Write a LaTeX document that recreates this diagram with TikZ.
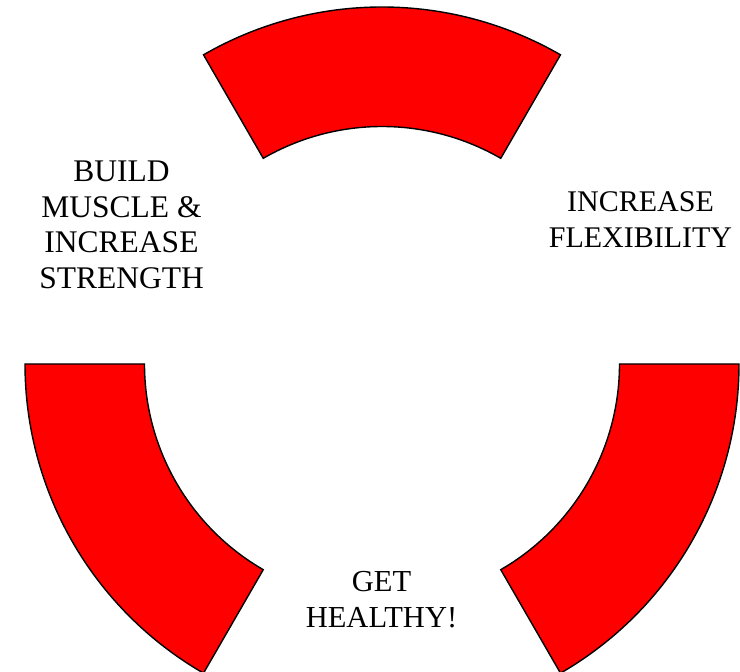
\documentclass[tikz,border=0pt]{standalone}
\usepackage{fontspec}
\setmainfont{Liberation Serif}
\usepackage{tikz}
\definecolor{ringred}{RGB}{255,0,0}

\begin{document}
\begin{tikzpicture}[
  x=1pt,y=1pt,
  band/.style={fill=ringred,draw=black,line width=1.4pt},
  goal/.style={align=center,inner sep=0pt,font=\fontsize{30.5}{36}\selectfont}
]
  \useasboundingbox (0,0) rectangle (740,672);

  % three ring pieces, 60 degrees each, gaps between them
  \foreach \a in {60,180,300}
    \draw[band,shift={(382,308)}] (\a:357)
      arc[start angle=\a,delta angle=60,radius=357]
      -- (\a+60:237.5)
      arc[start angle=\a+60,delta angle=-60,radius=237.5] -- cycle;

  \node[goal,font=\fontsize{31.5}{35.5}\selectfont] (muscle) at (121.5,447)
    {BUILD\\MUSCLE \&\\INCREASE\\STRENGTH};
  \node[goal,font=\fontsize{30}{36}\selectfont] (flex) at (640.5,452.5)
    {INCREASE\\FLEXIBILITY};
  \node[goal] (health) at (381.5,72.5) {GET\\HEALTHY!};
\end{tikzpicture}
\end{document}
